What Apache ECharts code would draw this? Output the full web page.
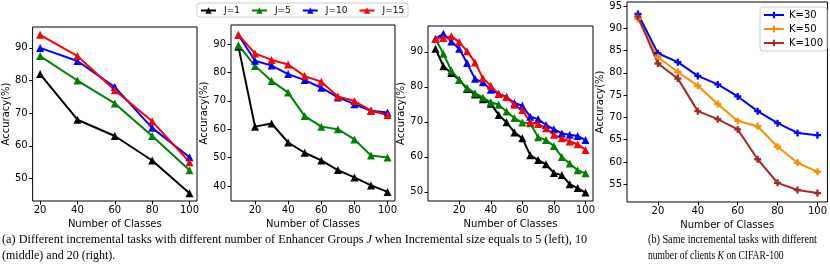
<!DOCTYPE html>
<html><head><meta charset="utf-8">
<script src="https://cdn.jsdelivr.net/npm/echarts@6/dist/echarts.min.js"></script>
<style>html,body{margin:0;padding:0;background:#fff;}#c{width:830px;height:271px;}</style>
</head><body><div id="c"></div>
<script>
// ---- data ----
const groupNames = ['J=1', 'J=5', 'J=10', 'J=15'];
const clientNames = ['K=30', 'K=50', 'K=100'];

// (a) left: incremental size 5
const xLeft = [20, 40, 60, 80, 100];
const leftJ1 = [82, 68, 63, 55.5, 45.5];
const leftJ5 = [87.5, 80, 73, 63, 52.5];
const leftJ10 = [90, 86, 78, 65.5, 56.5];
const leftJ15 = [94, 87.5, 77, 67.5, 55];

// (a) middle: incremental size 10
const xMid = [10, 20, 30, 40, 50, 60, 70, 80, 90, 100];
const midJ1 = [89, 60.9, 62, 55.3, 51.7, 49, 45.6, 43, 40.2, 37.9];
const midJ5 = [89.6, 82.3, 77, 72.9, 64.6, 60.9, 60, 56.4, 50.7, 50];
const midJ10 = [93.2, 84.1, 82.4, 79.4, 77.3, 74.6, 71.2, 68.8, 66.5, 65.9];
const midJ15 = [93.2, 86.7, 84.4, 82.8, 78.7, 76.7, 71.5, 69.9, 66.5, 65];

// (a) right: incremental size 20
const xRight = [5, 10, 15, 20, 25, 30, 35, 40, 45, 50, 55, 60, 65, 70, 75, 80, 85, 90, 95, 100];
const rightJ1 = [90.9, 85.9, 84, 82, 79.4, 77.8, 76.5, 75.2, 72, 69.9, 67, 65.3, 60.5, 59.1, 57.9, 55.4, 54.8, 52.2, 51.1, 49.8];
const rightJ5 = [93.7, 89.5, 84.7, 82, 79.7, 78.2, 77, 75.6, 74.9, 73, 71.1, 69.8, 69.6, 65.6, 64.8, 63.1, 60, 58.1, 56.2, 55.3];
const rightJ10 = [93.7, 95.2, 93, 90.9, 86.8, 82.3, 81.3, 79.2, 78, 77.1, 75.4, 74.6, 71.5, 70.8, 69.1, 67.9, 66.7, 66.3, 66, 64.8];
const rightJ15 = [93.7, 94, 94.5, 92.8, 90.2, 87, 82.5, 80.3, 78, 77.1, 74.9, 73.4, 69.9, 69.4, 68.2, 66.3, 65.3, 64.4, 63.6, 62];

// (b) clients
const xClients = [10, 20, 30, 40, 50, 60, 70, 80, 90, 100];
const k30 = [93.2, 84.4, 82.4, 79.3, 77.4, 74.7, 71.4, 68.7, 66.5, 66];
const k50 = [92.1, 83.5, 80.2, 77.1, 73, 69.2, 68, 63.4, 59.8, 57.8];
const k100 = [92.6, 82.1, 78.7, 71.4, 69.6, 67.3, 60.6, 55.3, 53.7, 53];

// tick labels
const xTicks = [20, 40, 60, 80, 100];
const yTicksLeft = [50, 60, 70, 80, 90];
const yTicksMid = [40, 50, 60, 70, 80, 90];
const yTicksRight = [50, 60, 70, 80, 90];
const yTicksClients = [55, 60, 65, 70, 75, 80, 85, 90, 95];

// ---- chart ----
const FONT = 'DejaVu Sans';
const grids = [
  {left: 32, top: 27, width: 165, height: 174},
  {left: 231, top: 25, width: 164, height: 176},
  {left: 428, top: 26, width: 165, height: 175},
  {left: 627, top: 2, width: 201, height: 200}
];
const xr = [[16, 104], [5.5, 104.5], [0.25, 104.75], [4.5, 105]];
const yr = [[43.1, 96.4], [34.7, 96.7], [47.4, 97.4], [51.0, 95.9]];
const yT = [yTicksLeft, yTicksMid, yTicksRight, yTicksClients];
const yNameGap = [16, 18, 18, 20];

function xAxisOf(i) {
  return {
    type: 'value', gridIndex: i, min: xr[i][0], max: xr[i][1],
    name: 'Number of Classes', nameLocation: 'middle', nameGap: 12,
    nameTextStyle: {fontFamily: FONT, fontSize: 10, color: '#000'},
    axisLine: {show: false},
    axisTick: {show: true, inside: false, length: 3.5, lineStyle: {color: '#000'}, customValues: xTicks},
    axisLabel: {fontFamily: FONT, fontSize: 10, color: '#000', margin: 4, customValues: xTicks},
    splitLine: {show: false}
  };
}
function yAxisOf(i) {
  return {
    type: 'value', gridIndex: i, min: yr[i][0], max: yr[i][1],
    name: 'Accuracy(%)', nameLocation: 'middle', nameGap: yNameGap[i],
    nameTextStyle: {fontFamily: FONT, fontSize: 10, color: '#000'},
    axisLine: {show: false},
    axisTick: {show: true, inside: false, length: 3.5, lineStyle: {color: '#000'}, customValues: yT[i]},
    axisLabel: {fontFamily: FONT, fontSize: 10, color: '#000', margin: 5, customValues: yT[i]},
    splitLine: {show: false}
  };
}

const PLUS = 'path://M1,0H2V1H3V2H2V3H1V2H0V1H1Z';
function mk(name, xs, ys, gi, color, symbol, size) {
  return {
    type: 'line', name: name, xAxisIndex: gi, yAxisIndex: gi,
    data: xs.map((x, k) => [x, ys[k]]),
    symbol: symbol, symbolSize: size, showSymbol: true,
    lineStyle: {width: 2, color: color}, itemStyle: {color: color},
    emphasis: {disabled: true}, animation: false
  };
}
const C = {k: '#000000', g: '#008000', b: '#0000ff', r: '#ff0000'};
const series = [];
[[xLeft, [leftJ1, leftJ5, leftJ10, leftJ15]], [xMid, [midJ1, midJ5, midJ10, midJ15]], [xRight, [rightJ1, rightJ5, rightJ10, rightJ15]]].forEach((p, gi) => {
  const cols = [C.k, C.g, C.b, C.r];
  p[1].forEach((ys, j) => series.push(mk(groupNames[j], p[0], ys, gi, cols[j], 'triangle', 8)));
});
series.push(mk(clientNames[0], xClients, k30, 3, '#0000ff', PLUS, 7));
series.push(mk(clientNames[1], xClients, k50, 3, '#ff8c00', PLUS, 7));
series.push(mk(clientNames[2], xClients, k100, 3, '#a52a2a', PLUS, 7));

function cap(x, y, text, sx) {
  return {type: 'text', x: x, y: y, scaleX: sx, scaleY: 1, style: {
    text: text, fontFamily: 'Liberation Serif', fontSize: 12, fill: '#000', verticalAlign: 'middle',
    rich: {i: {fontStyle: 'italic', fontFamily: 'Liberation Serif', fontSize: 12}}}};
}

const option = {
  backgroundColor: '#fff',
  animation: false,
  grid: grids.map(g => Object.assign({show: true, borderColor: '#000', borderWidth: 1, backgroundColor: 'transparent', containLabel: false}, g)),
  xAxis: [0, 1, 2, 3].map(xAxisOf),
  yAxis: [0, 1, 2, 3].map(yAxisOf),
  legend: [
    {data: groupNames, orient: 'horizontal', left: 197, top: 3, padding: [3, 4, 2, 3],
     itemWidth: 15, itemHeight: 8, itemGap: 11, selectedMode: false,
     borderColor: '#cccccc', borderWidth: 1, borderRadius: 3,
     textStyle: {fontFamily: FONT, fontSize: 9, color: '#000', padding: [0, 0, 0, 3]}},
    {data: clientNames, orient: 'vertical', left: 760, top: 7, padding: [3, 4, 3, 3],
     itemWidth: 20, itemHeight: 8, itemGap: 4, selectedMode: false,
     borderColor: '#cccccc', borderWidth: 1, borderRadius: 3,
     textStyle: {fontFamily: FONT, fontSize: 10, color: '#000'}}
  ],
  graphic: [
    cap(2, 240, '(a) Different incremental tasks with different number of Enhancer Groups {i|J} when Incremental size equals to 5 (left), 10', 1.02),
    cap(2, 256, '(middle) and 20 (right).', 1.0),
    cap(648, 240, '(b) Same incremental tasks with different', 0.85),
    cap(648, 256, 'number of clients {i|K} on CIFAR-100', 0.8)
  ],
  series: series
};
const chart = echarts.init(document.getElementById('c'), null, {renderer: 'canvas'});
chart.setOption(option);
</script>
</body></html>
